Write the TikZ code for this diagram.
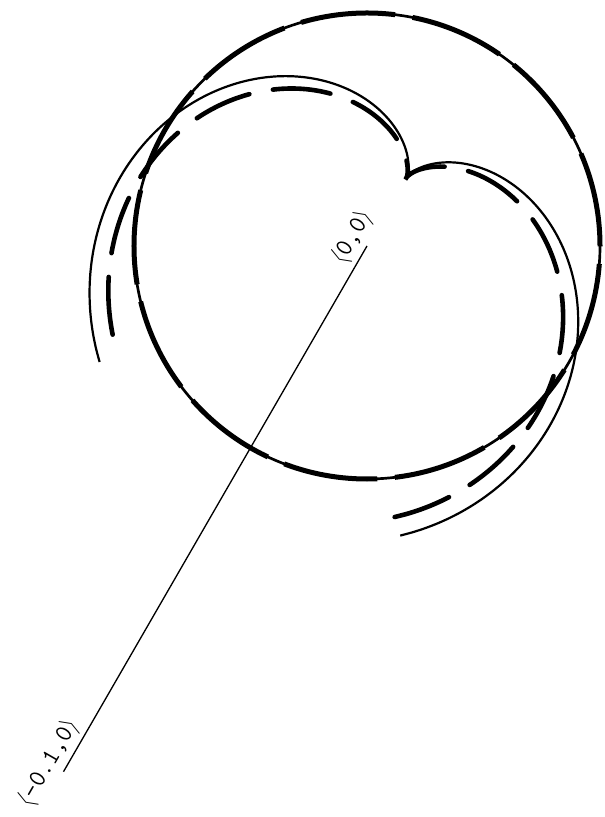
\documentclass[tikz,border=0pt]{standalone}
\usepackage{tikz}
\usepackage{xcolor}
\usetikzlibrary{calc}
\definecolor{ink}{HTML}{000000}
\tikzset{
  font=\ttfamily,
  %
  rim/.style={draw=ink, line width=0.67mm},
  rimdash/.style={draw=ink, line width=1.25mm, dash pattern=on 23.75mm off 4.4mm},
  %
  lobe/.style={draw=ink, line width=0.55mm},
  lobedash/.style={draw=ink, line width=1.15mm, line cap=round,
                   dash pattern=on 14.5mm off 6mm},
  %
  axisline/.style={draw=ink, line width=0.33mm},
  coordlbl/.style={font=\ttfamily\fontsize{18}{20}\selectfont, text=ink, inner sep=3pt},
}

\begin{document}
\begin{tikzpicture}[x=0.25mm, y=0.25mm]
  \useasboundingbox (-367,-571) rectangle (237,246);

  \coordinate (origin) at (0,0);
  \coordinate (probe) at (240:607);
  \coordinate (cusp) at (60:79);

  % reference circle
  \draw[rim] (origin) circle (233);
  \draw[rimdash] (origin) circle (233);

  % the two lobes, cusp on the axis
  \begin{scope}[shift={(cusp)}, rotate=240]
    \draw[lobe] plot[domain=29:331, samples=150, smooth]
      (\x:{191*(1+cos(\x))});
    \draw[lobedash] plot[domain=28:332, samples=150, smooth]
      (\x:{191*(1+cos(\x)) - 20*(1-exp(-(((\x-180)/40)^2)))});
  \end{scope}

  % axis with its end points
  \draw[axisline] (probe) --
    node[coordlbl, pos=0, sloped, above] (probelbl) {$\langle$-0.1,0$\rangle$}
    node[coordlbl, pos=1, sloped, above] (originlbl) {$\langle$0,0$\rangle$}
    (origin);

\end{tikzpicture}
\end{document}
